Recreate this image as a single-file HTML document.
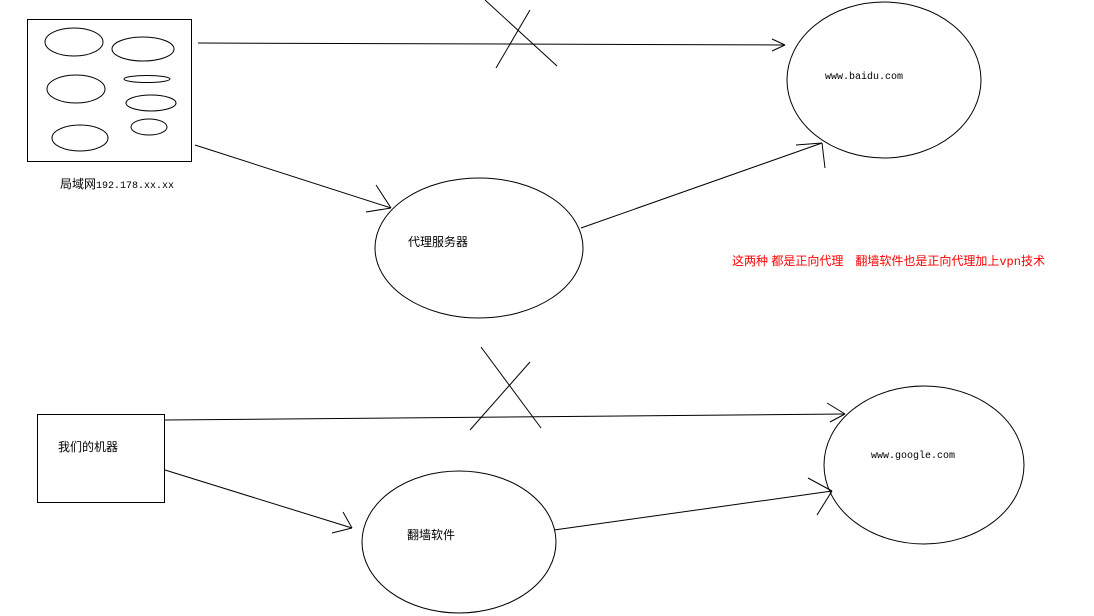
<!DOCTYPE html>
<html><head><meta charset="utf-8"><style>
html,body{margin:0;padding:0;background:#fff;}
svg{display:block}
text{font-family:"Liberation Sans","Noto Sans CJK SC",sans-serif;font-size:12px;fill:#000}
.m{font-family:"Liberation Mono","Noto Sans CJK SC",monospace;font-size:10px}
</style></head><body>
<svg width="1094" height="616" viewBox="0 0 1094 616" xmlns="http://www.w3.org/2000/svg" fill="none" stroke="#000" stroke-width="1">
<rect x="27.5" y="19.5" width="164" height="142"/>
<ellipse cx="74" cy="42" rx="29" ry="14"/>
<ellipse cx="143" cy="49" rx="31" ry="12"/>
<ellipse cx="76" cy="89" rx="29" ry="14"/>
<ellipse cx="147" cy="79" rx="23" ry="3.5"/>
<ellipse cx="151" cy="103" rx="25" ry="8"/>
<ellipse cx="149" cy="127" rx="18" ry="8"/>
<ellipse cx="80" cy="138" rx="28" ry="13"/>
<text x="60" y="188" stroke="none" style="font-size:12px">局域网<tspan class="m" style="font-size:10px">192.178.xx.xx</tspan></text>

<line x1="198" y1="43" x2="785" y2="45"/>
<line x1="785" y1="45" x2="772" y2="39"/><line x1="785" y1="45" x2="772" y2="51"/>
<line x1="485" y1="0" x2="557" y2="66"/><line x1="530" y1="10" x2="496" y2="68"/>

<ellipse cx="884" cy="80" rx="97" ry="78"/>
<text class="m" x="825" y="79" stroke="none">www.baidu.com</text>

<line x1="195" y1="145" x2="391" y2="208"/>
<line x1="391" y1="208" x2="376" y2="185"/><line x1="391" y1="208" x2="366" y2="212"/>

<ellipse cx="479" cy="248" rx="104" ry="70"/>
<text x="408" y="246" stroke="none">代理服务器</text>
<line x1="581" y1="228" x2="822" y2="143"/>
<line x1="822" y1="143" x2="796" y2="145"/><line x1="822" y1="143" x2="825" y2="168"/>

<text x="732" y="265" stroke="none" style="fill:#f00">这两种 都是正向代理　翻墙软件也是正向代理加上<tspan class="m" style="fill:#f00;font-size:12px">vpn</tspan>技术</text>

<rect x="37.5" y="414.5" width="127" height="88"/>
<text x="58" y="451" stroke="none">我们的机器</text>

<line x1="165" y1="420" x2="845" y2="414"/>
<line x1="845" y1="414" x2="827" y2="403"/><line x1="845" y1="414" x2="830" y2="422"/>
<line x1="481" y1="347" x2="541" y2="428"/><line x1="530" y1="362" x2="470" y2="430"/>

<ellipse cx="924" cy="465" rx="100" ry="79"/>
<text class="m" x="871" y="458" stroke="none">www.google.com</text>

<line x1="165" y1="470" x2="352" y2="528"/>
<line x1="352" y1="528" x2="343" y2="512"/><line x1="352" y1="528" x2="332" y2="533"/>

<ellipse cx="459" cy="542" rx="97" ry="71"/>
<text x="407" y="539" stroke="none">翻墙软件</text>
<line x1="554" y1="530" x2="832" y2="491"/>
<line x1="832" y1="491" x2="808" y2="478"/><line x1="832" y1="491" x2="817" y2="515"/>
</svg>
</body></html>
